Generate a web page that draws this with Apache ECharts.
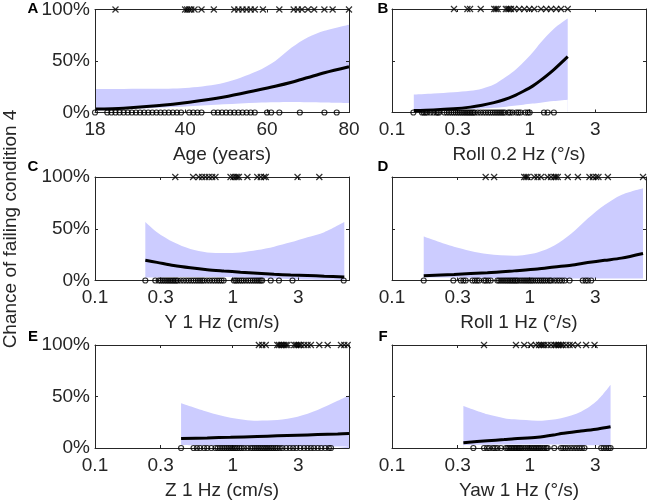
<!DOCTYPE html>
<html><head><meta charset="utf-8">
<script src="https://cdn.jsdelivr.net/npm/echarts@6/dist/echarts.min.js"></script>
<style>html,body{margin:0;padding:0;background:#fff}#c{width:649px;height:501px}</style>
</head><body><div id="c"></div>
<script>
// ---------- Panel A: Age ----------
const aX   = [18, 25, 33, 41, 49.5, 57.5, 62, 66, 70, 74, 80];
const aLo  = [2, 3, 4.5, 6, 8, 9.5, 10, 10.2, 10, 9.8, 9.3];
const aHi  = [22.9, 22.9, 23, 24, 28.8, 40, 50, 63, 73, 79.4, 85.3];
const aFit = [3.3, 4.2, 6.5, 10, 15, 21.6, 25.5, 29.4, 34, 38.6, 44.4];
const aFail = [23, 40, 40.5, 41, 41.5, 42.3, 44, 47, 52, 53, 54, 55, 56, 57, 59, 63, 66.5, 67.5, 68.5, 70, 71.5, 74, 76, 80];
const aPass = [18, 21, 22, 23, 24, 25, 26, 27, 28, 29, 30, 31, 32, 33, 34, 35, 36, 37, 38, 39, 41, 42, 43, 44, 47, 48, 49, 50, 51, 52, 53, 54, 55, 56, 57, 60, 61, 63, 68, 74, 77];
// ---------- Panel B: Roll 0.2 Hz ----------
const bX   = [0.144, 0.2, 0.28, 0.37, 0.45, 0.55, 0.65, 0.77, 0.9, 1.05, 1.2, 1.5, 1.89];
const bLo  = [1.5, 2, 2.6, 3.3, 3.9, 4.6, 5.4, 6.5, 7.5, 8.6, 9.5, 11, 12.4];
const bHi  = [17.3, 18.3, 19.6, 21, 23, 27, 33, 40, 48.5, 58, 67.5, 81, 90.8];
const bFit = [2, 2.5, 3.6, 5.2, 7, 9.5, 12.3, 16, 20.5, 25.5, 31, 41.5, 54];
const bFail = [0.282, 0.353, 0.369, 0.441, 0.553, 0.568, 0.585, 0.672, 0.691, 0.711, 0.731, 0.773, 0.841, 0.915, 0.995, 1.08, 1.21, 1.32, 1.43, 1.56, 1.69, 1.89];
const bPass = [0.143, 0.165, 0.17, 0.175, 0.18, 0.19, 0.2, 0.21, 0.215, 0.22, 0.24, 0.25, 0.26, 0.27, 0.28, 0.29, 0.3, 0.31, 0.32, 0.33, 0.34, 0.35, 0.36, 0.37, 0.38, 0.39, 0.4, 0.42, 0.44, 0.46, 0.48, 0.5, 0.52, 0.54, 0.56, 0.58, 0.6, 0.62, 0.64, 0.66, 0.7, 0.72, 0.75, 0.8, 0.83, 0.86, 0.93, 0.97, 1.0, 1.27, 1.35, 1.5];
// ---------- Panel C: Y 1 Hz ----------
const cX   = [0.232, 0.282, 0.373, 0.493, 0.653, 0.863, 1.14, 1.51, 2.0, 2.64, 3.5, 4.63, 6.47];
const cLo  = [3, 3, 3.5, 3.5, 3.5, 3.3, 3, 2.5, 2, 1.5, 1, 0.7, 0.5];
const cHi  = [56.5, 46.7, 36.9, 30.4, 27.1, 26.5, 27.1, 29.4, 32.7, 36.9, 41.8, 46.7, 56.5];
const cFit = [19.5, 17.5, 14.5, 12.3, 10.5, 9.2, 8, 7, 6, 5.3, 4.8, 4.2, 3.5];
const cFail = [0.383, 0.516, 0.567, 0.6, 0.634, 0.671, 0.71, 0.75, 0.965, 1.01, 1.05, 1.08, 1.11, 1.28, 1.51, 1.6, 1.69, 1.74, 2.96, 4.26];
const cPass = [0.232, 0.274, 0.29, 0.3, 0.31, 0.32, 0.33, 0.34, 0.35, 0.36, 0.37, 0.38, 0.39, 0.4, 0.42, 0.44, 0.46, 0.48, 0.5, 0.52, 0.54, 0.56, 0.58, 0.6, 0.62, 0.65, 0.68, 0.71, 0.74, 0.77, 0.8, 0.83, 0.86, 1.02, 1.05, 1.08, 1.12, 1.16, 1.2, 1.25, 1.3, 1.35, 1.4, 1.45, 1.5, 1.55, 1.6, 1.64, 1.89, 2.17, 2.72, 6.41];
// ---------- Panel D: Roll 1 Hz ----------
const dX   = [0.17, 0.282, 0.493, 0.772, 1.14, 1.51, 2.0, 2.64, 3.5, 4.63, 6.66];
const dLo  = [3, 2.8, 2.5, 2.3, 2, 2, 2, 2, 2, 2, 2];
const dHi  = [42.5, 32.7, 25.5, 23.9, 27.1, 33.7, 45.1, 59.8, 72.9, 82.7, 89.2];
const dFit = [4.6, 5.9, 7.5, 9.3, 11, 13, 14.8, 17.3, 19.5, 21.6, 26.1];
const dFail = [0.479, 0.552, 0.913, 0.939, 0.966, 1.08, 1.14, 1.21, 1.35, 1.43, 1.51, 1.55, 1.6, 1.89, 2.24, 2.72, 2.88, 3.04, 3.16, 3.7, 6.66];
const dPass = [0.17, 0.279, 0.316, 0.33, 0.343, 0.384, 0.4, 0.415, 0.429, 0.466, 0.48, 0.5, 0.521, 0.583, 0.6, 0.62, 0.64, 0.66, 0.68, 0.7, 0.72, 0.74, 0.76, 0.78, 0.8, 0.82, 0.85, 0.88, 0.91, 0.94, 0.97, 1.0, 1.03, 1.06, 1.1, 1.14, 1.18, 1.22, 1.26, 1.3, 1.35, 1.4, 1.43, 1.51, 1.58, 1.65, 1.72, 1.8, 1.95, 2.43, 2.55, 2.65, 2.8];
// ---------- Panel E: Z 1 Hz ----------
const eX   = [0.422, 0.653, 0.965, 1.51, 2.11, 2.96, 4.14, 5.79, 7];
const eLo  = [3, 2.5, 2, 1.5, 1.5, 1.5, 1.5, 1.5, 1.5];
const eHi  = [43.5, 35.3, 29.4, 26.5, 27.1, 30.4, 36.9, 45.8, 51];
const eFit = [9.2, 9.8, 10.4, 11.2, 11.8, 12.4, 13, 13.6, 14];
const eFail = [1.55, 1.64, 1.74, 2.11, 2.17, 2.24, 2.3, 2.36, 2.43, 2.5, 2.8, 2.88, 2.96, 3.04, 3.13, 3.31, 3.5, 3.7, 4.26, 4.9, 6.12, 6.47, 6.84];
const ePass = [0.422, 0.52, 0.55, 0.58, 0.62, 0.653, 0.7, 0.75, 0.78, 0.81, 0.84, 0.87, 0.9, 0.93, 0.96, 0.99, 1.02, 1.05, 1.08, 1.12, 1.16, 1.21, 1.28, 1.35, 1.4, 1.45, 1.5, 1.55, 1.6, 1.65, 1.7, 1.75, 1.8, 1.86, 1.92, 1.98, 2.05, 2.11, 2.2, 2.3, 2.45, 2.6, 2.75, 2.9, 3.1, 3.3, 3.5, 3.7, 3.9, 4.15, 4.4, 4.7, 5.0, 5.18];
// ---------- Panel F: Yaw 1 Hz ----------
const fX   = [0.33, 0.493, 0.653, 0.772, 1.14, 1.55, 1.69, 2.36, 3.13, 3.87];
const fLo  = [3, 3.2, 3.4, 3.5, 3.5, 3.4, 3.3, 3, 2.7, 2.5];
const fHi  = [40.8, 32.7, 29, 27.8, 26.5, 28, 28.8, 35.3, 46.7, 61.4];
const fFit = [5.2, 7, 8.2, 9, 10.5, 13, 14, 16.5, 18.5, 20.6];
const fFail = [0.466, 0.795, 0.913, 1.02, 1.11, 1.17, 1.21, 1.24, 1.28, 1.35, 1.43, 1.51, 1.55, 1.6, 1.64, 1.69, 1.74, 1.84, 1.95, 2.05, 2.24, 2.57, 2.96];
const fPass = [0.39, 0.466, 0.49, 0.51, 0.54, 0.56, 0.583, 0.618, 0.671, 0.69, 0.71, 0.73, 0.75, 0.77, 0.79, 0.81, 0.83, 0.85, 0.87, 0.9, 0.93, 0.96, 0.99, 1.02, 1.05, 1.08, 1.11, 1.14, 1.17, 1.2, 1.24, 1.28, 1.32, 1.35, 1.51, 1.69, 1.75, 1.82, 1.9, 2.0, 2.1, 2.2, 2.3, 2.4, 2.5, 3.31, 3.45, 3.6, 3.75, 3.87];

// ---------- labels / ticks ----------
const letters = ['A', 'B', 'C', 'D', 'E', 'F'];
const xTitles = ['Age (years)', 'Roll 0.2 Hz (°/s)', 'Y 1 Hz (cm/s)', 'Roll 1 Hz (°/s)', 'Z 1 Hz (cm/s)', 'Yaw 1 Hz (°/s)'];
const ageTicks = [18, 40, 60, 80];
const logTicks = [0.1, 0.3, 1, 3];
const yLabel = 'Chance of failing condition 4';

const FONT = '"Liberation Sans", Arial, sans-serif';
const TXT = '#262626';
const BAND = '#ccccff';
const XPATH = 'path://M0,0L10,10M10,0L0,10';

const panels = [
  {x: aX, lo: aLo, hi: aHi, fit: aFit, fail: aFail, pass: aPass, log: false},
  {x: bX, lo: bLo, hi: bHi, fit: bFit, fail: bFail, pass: bPass, log: true},
  {x: cX, lo: cLo, hi: cHi, fit: cFit, fail: cFail, pass: cPass, log: true},
  {x: dX, lo: dLo, hi: dHi, fit: dFit, fail: dFail, pass: dPass, log: true},
  {x: eX, lo: eLo, hi: eHi, fit: eFit, fail: eFail, pass: ePass, log: true},
  {x: fX, lo: fLo, hi: fHi, fit: fFit, fail: fFail, pass: fPass, log: true}
];
const gridPos = [[95, 9], [392, 9], [95, 177], [392, 177], [95, 345], [392, 345]];
const letterPos = [[33, 9], [383, 9], [33, 167], [383, 167], [33, 337], [383, 337]];

const fmtNum = v => String(parseFloat(Number(v).toPrecision(6)));
const lineAx = {show: true, onZero: false, lineStyle: {color: TXT, width: 1}};

const grid = [], xAxis = [], yAxis = [], series = [], graphic = [];
panels.forEach((p, i) => {
  grid.push({left: gridPos[i][0], top: gridPos[i][1], width: 254, height: 103.5, show: false});
  const ticks = p.log ? logTicks : ageTicks;
  const base = {
    gridIndex: i, type: p.log ? 'log' : 'value', z: 5,
    min: p.log ? 0.1 : 18, max: p.log ? 7 : 80,
    axisLine: lineAx, splitLine: {show: false},
    axisTick: {show: true, inside: true, length: 3, customValues: ticks, lineStyle: {color: TXT}}
  };
  if (p.log) base.logBase = 10;
  xAxis.push(Object.assign({}, base, {
    position: 'bottom',
    axisLabel: {customValues: ticks, formatter: fmtNum, fontSize: 19, color: TXT, fontFamily: FONT, margin: 8},
    name: xTitles[i], nameLocation: 'middle', nameGap: 33,
    nameTextStyle: {fontSize: 19, color: TXT, fontFamily: FONT}
  }));
  xAxis.push(Object.assign({}, base, {position: 'top', axisLabel: {show: false}}));
  const yBase = {
    gridIndex: i, type: 'value', min: 0, max: 100, interval: 50, z: 5,
    axisLine: lineAx, splitLine: {show: false},
    axisTick: {show: true, inside: true, length: 3, lineStyle: {color: TXT}}
  };
  yAxis.push(Object.assign({}, yBase, {position: 'left',
    axisLabel: {show: i % 2 === 0, formatter: '{value}%', fontSize: 19, color: TXT, fontFamily: FONT, margin: 5}}));
  yAxis.push(Object.assign({}, yBase, {position: 'right', axisLabel: {show: false}}));
  const xi = 2 * i, yi = 2 * i;
  // upper confidence bound, filled down to 0%
  series.push({type: 'line', xAxisIndex: xi, yAxisIndex: yi, smooth: 0.3, z: 1,
    symbol: 'none', silent: true, lineStyle: {width: 0, opacity: 0},
    areaStyle: {color: BAND, opacity: 1},
    data: p.x.map((v, k) => [v, p.hi[k]])});
  // lower confidence bound, white below it
  series.push({type: 'line', xAxisIndex: xi, yAxisIndex: yi, smooth: 0.3, z: 1,
    symbol: 'none', silent: true, lineStyle: {width: 0, opacity: 0},
    areaStyle: {color: '#ffffff', opacity: 1},
    data: p.x.map((v, k) => [v, p.lo[k]])});
  // fitted probability
  series.push({type: 'line', xAxisIndex: xi, yAxisIndex: yi, smooth: 0.3, symbol: 'none', z: 3,
    lineStyle: {color: '#000', width: 3},
    data: p.x.map((v, k) => [v, p.fit[k]])});
  // failed (100%)
  series.push({type: 'scatter', xAxisIndex: xi, yAxisIndex: yi, clip: false, z: 6,
    symbol: XPATH, symbolSize: 6,
    itemStyle: {color: 'transparent', borderColor: '#000', borderWidth: 1.2},
    data: p.fail.map(v => [v, 100])});
  // passed (0%)
  series.push({type: 'scatter', xAxisIndex: xi, yAxisIndex: yi, clip: false, z: 6,
    symbol: 'circle', symbolSize: 5,
    itemStyle: {color: 'transparent', borderColor: '#000', borderWidth: 1.2},
    data: p.pass.map(v => [v, 0])});
  graphic.push({type: 'text', x: letterPos[i][0], y: letterPos[i][1],
    style: {text: letters[i], fontSize: 15, fontWeight: 'bold', fontFamily: FONT, fill: '#000',
      align: 'center', verticalAlign: 'middle'}});
});
graphic.push({type: 'text', x: 11, y: 229, rotation: Math.PI / 2,
  style: {text: yLabel, fontSize: 19, fontFamily: FONT, fill: TXT, align: 'center', verticalAlign: 'middle'}});

const chart = echarts.init(document.getElementById('c'), null, {renderer: 'canvas'});
chart.setOption({animation: false, backgroundColor: '#fff', grid, xAxis, yAxis, series, graphic});
</script></body></html>
